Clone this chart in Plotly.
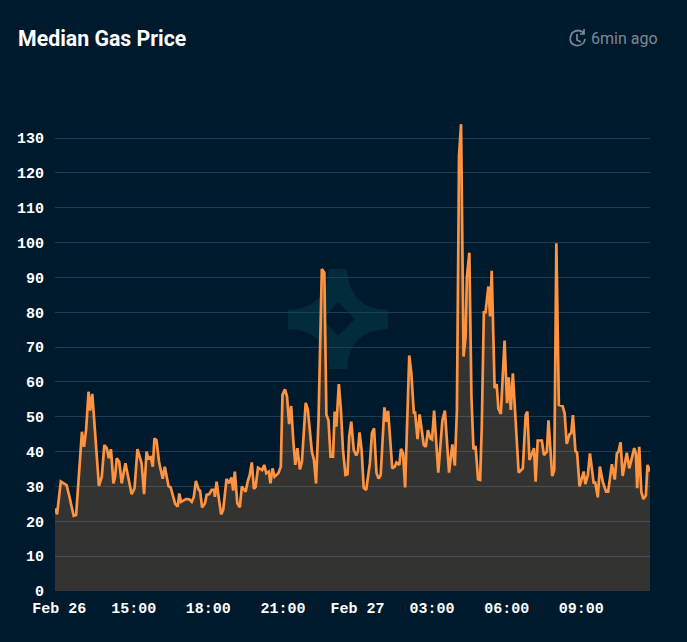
import pandas as pd
import plotly.graph_objects as go

minutes = [-10,-5,4,10,18,25,35,41,55,60,65,71,75,80,87,92,96,103,109,115,120,125,131,135,139,145,151,160,167,175,182,189,199,205,211,215,221,226,230,235,241,250,255,264,269,280,286,290,294,306,314,320,325,330,337,340,345,352,356,362,368,374,376,380,386,391,396,404,410,
 416,420,424,430,436,441,450,455,460,465,470,474,480,490,495,500,506,510,515,520,529,535,539,545,550,555,560,565,570,575,581,586,595,600,610,615,620,626,634,640,645,650,655,661,665,669,675,680,685,691,696,700,705,711,717,721,725,730,735,741,750,755,760,766,771,776,785,790,794,804,810,814,821,825,830,835,845,850,856,859,865,870,880,885,890,896,900,905,915,925,931,941,949,955,960,
 964,965,970,976,981,984,990,995,1000,1005,1011,1016,1020,1025,1029,1036,1040,1044,1051,1056,1060,1066,1075,1081,1085,1090,1095,1101,1109,1119,1126,1130,1135,1146,1150,1155,1165,1170,1177,1181,1190,1195,1200,1206,1215,1220,1225,1232,1236,1240,1246,1250,1256,1266,1270,1276,1281,1290,1294,1300,1305,1312,1320,1325,1334,1341,1346,1350,1355,1360,1370,1376,1388,1392,1395,1400,1405,1410,1416,1420,1426]
gas_price = [23.7,22,31.4,30.9,30.4,27,21.6,21.8,45.7,41.4,46.2,57.2,51.8,56.6,44.3,35.7,30.2,32.8,41.9,41,38.1,40.7,30.9,32.8,38.1,37.1,30.9,36.7,32.8,27.8,29.5,40.7,36.7,27.8,40,38.1,38.4,35.7,43.8,43.3,37.1,32.2,35.7,30.1,29.8,25,24.2,28,25.6,26.4,26.3,25.6,27,31.6,29,28.8,24,25.2,27.6,27.8,29,29,27,31.4,26.1,22,23.3,32.2,30.9,
 32.6,28.8,34.3,25.2,24,30,28.5,31.4,33.3,36.9,29.3,29.8,35.4,34.7,36.2,33.8,34.3,30.9,35.2,32.8,33.8,35.7,56.3,57.9,55.8,47.9,53.1,43.3,36.2,41,34.9,37.1,54,52.2,40,37.6,30.9,49,92.4,91.4,50.5,49,38.6,38.6,51.5,47.2,59.4,52,40.5,33.3,33.5,44.3,48.6,40.5,38.9,40,45.5,40.5,29.7,29,36.7,45.3,46.7,33.8,32.3,33.3,52.7,48.6,51.7,35.2,35.7,36.9,36.2,40.8,39.5,29.7,67.6,62.5,51.2,51.2,43.6,50.7,41.9,41.4,46.2,43.8,43.5,51.8,34,49,51.8,34,42.1,36,52,
 107.5,124.7,134,67.3,73,90,97.1,55.8,40.7,41.6,32.1,31.9,47.2,80,80,87.4,78.8,91.9,58.2,59.4,52.4,50.8,71.9,53.9,61.3,52,62.5,50,34,35.2,50.5,51.5,37.6,41,31.4,43.2,43.2,39,40,49,33,34.7,99.8,53.4,53.1,51,42.2,45,45.3,50.5,40.2,39.7,30,34.3,30.7,33.3,39.5,31.1,31.1,26.9,35.7,31.4,28.5,28.5,36.4,32,39.5,40,42.7,33,39.7,35.2,41,39.5,29.5,41.4,28.5,26.4,27.4,36.2,34.3]
tick_minutes = [0,180,360,540,720,900,1080,1260]
tick_labels = ["Feb 26","15:00","18:00","21:00","Feb 27","03:00","06:00","09:00"]
y_ticks = list(range(0,131,10))
title_text = "Median Gas Price"
age_text = "6min ago"

W, H = 687, 642
L, R, T, B = 55, 650, 120, 591
BG = "#001a2d"
start = pd.Timestamp("2024-02-26 12:00")
def when(ms):
    return [start + pd.Timedelta(minutes=m) for m in ms]
def px(x): return (x-L)/(R-L)
def py(y): return (B-y)/(B-T)
def P(x,y): return f"{px(x):.5f},{py(y):.5f}"

star = ("M"+P(329,269)+" L"+P(347,269)+" Q"+P(349,309)+" "+P(388,310)+" L"+P(388,329)+" Q"+P(349,330)+" "+P(347,369)
        +" L"+P(329,369)+" Q"+P(327,330)+" "+P(288,329)+" L"+P(288,310)+" Q"+P(327,309)+" "+P(329,269)+" Z"
        +" M"+P(338,302)+" L"+P(323,319)+" L"+P(338,336)+" L"+P(355,319)+" Z")

clock = ("M"+P(572,33)+" Q"+P(578,28)+" "+P(584,33)+" M"+P(572,33)+" Q"+P(567,43)+" "+P(576,45.5)+" Q"+P(584,46)+" "+P(585,39)
         +" M"+P(577,34)+" L"+P(577,40)+" L"+P(581,42)+" M"+P(584,29)+" L"+P(584,34)+" L"+P(580,34))

fig = go.Figure()
fig.add_trace(go.Scatter(
    x=when(minutes), y=gas_price, mode="lines",
    line=dict(color="#ff9340", width=2.7, shape="linear"),
    fill="tozeroy", fillcolor="rgba(255,155,65,0.2)", hoverinfo="skip"))
fig.update_layout(
    width=W, height=H, margin=dict(l=L, r=W-R, t=T, b=H-B, pad=0),
    paper_bgcolor=BG, plot_bgcolor=BG, showlegend=False,
    font=dict(family="Liberation Mono", size=15, color="#ffffff", weight=700),
    xaxis=dict(type="date", range=[when([-10])[0], when([1426])[0]], tickvals=when(tick_minutes), ticktext=tick_labels,
               showgrid=False, zeroline=False, showline=False, ticks="outside", ticklen=3, tickcolor=BG, tickangle=0),
    yaxis=dict(range=[0,135.2], tickvals=y_ticks, showgrid=True, gridcolor="#1b3d55", gridwidth=1.4,
               zeroline=False, showline=False, ticks="outside", ticklen=7, tickcolor=BG),
    shapes=[
        dict(type="path", xref="paper", yref="paper", path=star, fillcolor="#022c3b", line=dict(width=0), layer="below"),
        dict(type="path", xref="paper", yref="paper", path=clock, line=dict(color="#7a8894", width=1.7), fillcolor="rgba(0,0,0,0)"),
    ],
    annotations=[
        dict(text=title_text, xref="paper", yref="paper", x=px(16), y=py(38), xanchor="left", yanchor="middle",
             showarrow=False, font=dict(family="Roboto", size=21.3, color="#ffffff", weight=700)),
        dict(text=age_text, xref="paper", yref="paper", x=px(659.5), y=py(38.5), xanchor="right", yanchor="middle",
             showarrow=False, font=dict(family="Roboto", size=16, color="#7a8894", weight=400)),
    ],
)
fig.write_html("out.html", config=dict(displayModeBar=False),
               post_script="document.body.style.margin='0';document.body.style.background='"+BG+"';")
